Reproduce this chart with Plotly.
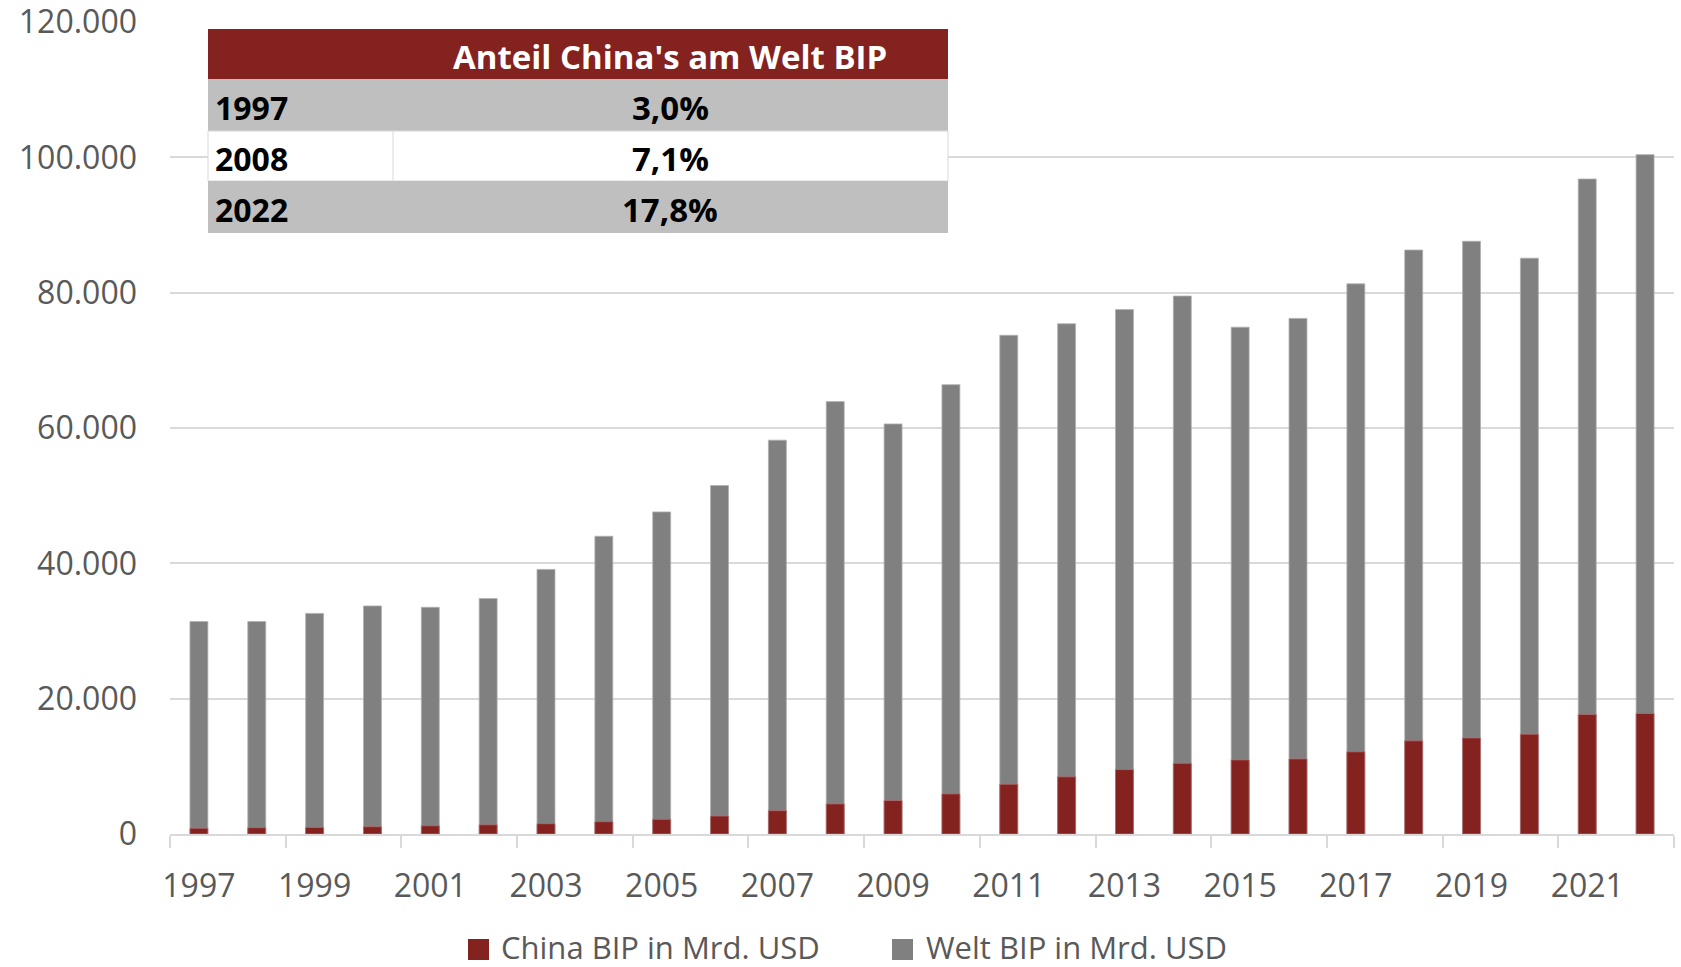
import plotly.graph_objects as go

years = list(range(1997, 2023))
welt_bip = [31400, 31400, 32600, 33700, 33500, 34800, 39100, 44000, 47600, 51500,
            58200, 63900, 60600, 66400, 73700, 75400, 77500, 79500, 74900, 76200,
            81300, 86300, 87600, 85100, 96800, 100400]
china_bip = [850, 930, 980, 1080, 1220, 1360, 1520, 1820, 2170, 2660,
             3450, 4450, 4950, 5930, 7360, 8450, 9520, 10450, 10950, 11100,
             12150, 13770, 14200, 14750, 17670, 17820]
table_title = "Anteil China's am Welt BIP"
table_years = ["1997", "2008", "2022"]
table_shares = ["3,0%", "7,1%", "17,8%"]
series_names = ["China BIP in Mrd. USD", "Welt BIP in Mrd. USD"]

RED = "#84221F"
GRAY = "#808080"
TXT = "#595959"
FONT = "Open Sans"

W, H = 1681, 967
L, R, T, B = 170, 7, 22, 133
PW, PH = W - L - R, H - T - B


def fx(px):
    return (px - L) / PW


def fy(py):
    return (H - B - py) / PH


fig = go.Figure()
fig.add_trace(go.Bar(x=years, y=welt_bip, name=series_names[1], marker=dict(color=GRAY, line=dict(color="#b0b0b0", width=0.8)),
                     width=0.31, showlegend=False))
fig.add_trace(go.Bar(x=years, y=china_bip, name=series_names[0], marker=dict(color=RED, line=dict(color="#b07070", width=0.8)),
                     width=0.31, showlegend=False))

shapes = []
annotations = []

# table
tx0, tx1 = 208, 948
div = 393
rows = [(29, 79), (79, 131), (131, 181), (181, 233)]
shapes.append(dict(type="rect", xref="paper", yref="paper", x0=fx(tx0), x1=fx(tx1), y0=fy(rows[0][1]), y1=fy(rows[0][0]),
                   fillcolor=RED, line=dict(width=0), layer="above"))
fills = ["#BFBFBF", "#FFFFFF", "#BFBFBF"]
for i, (ya, yb) in enumerate(rows[1:]):
    shapes.append(dict(type="rect", xref="paper", yref="paper", x0=fx(tx0), x1=fx(tx1), y0=fy(yb), y1=fy(ya),
                       fillcolor=fills[i], line=dict(width=1 if i == 1 else 0, color="#D9D9D9"), layer="above"))
    if i == 1:
        shapes.append(dict(type="line", xref="paper", yref="paper", x0=fx(div), x1=fx(div), y0=fy(yb), y1=fy(ya),
                           line=dict(width=1, color="#D9D9D9"), layer="above"))
    annotations.append(dict(xref="paper", yref="paper", x=fx(tx0 + 5), y=fy((ya + yb) / 2 + 2), xanchor="left", yanchor="middle",
                            text="<b>%s</b>" % table_years[i], showarrow=False, font=dict(family=FONT, size=32, color="#000000")))
    annotations.append(dict(xref="paper", yref="paper", x=fx(670), y=fy((ya + yb) / 2 + 2), xanchor="center", yanchor="middle",
                            text="<b>%s</b>" % table_shares[i], showarrow=False, font=dict(family=FONT, size=33, color="#000000")))
annotations.append(dict(xref="paper", yref="paper", x=fx(670), y=fy(56), xanchor="center", yanchor="middle",
                        text="<b>%s</b>" % table_title, showarrow=False, font=dict(family=FONT, size=33, color="#FFFFFF")))

# legend (manual)
leg = [(468, 499, RED, series_names[0]), (892, 924, GRAY, series_names[1])]
for sx, tx, col, name in leg:
    shapes.append(dict(type="rect", xref="paper", yref="paper", x0=fx(sx), x1=fx(sx + 21), y0=fy(960), y1=fy(939),
                       fillcolor=col, line=dict(width=0)))
    annotations.append(dict(xref="paper", yref="paper", x=fx(tx), y=fy(947), xanchor="left", yanchor="middle",
                            text=name, showarrow=False, font=dict(family=FONT, size=31, color=TXT)))

fig.update_layout(
    width=W, height=H,
    margin=dict(l=L, r=R, t=T, b=B, autoexpand=False),
    paper_bgcolor="white", plot_bgcolor="white",
    barmode="overlay",
    separators=",.",
    font=dict(family=FONT, size=32, color=TXT),
    shapes=shapes, annotations=annotations,
    showlegend=False,
)
fig.update_xaxes(range=[1996.5, 2022.5], tickvals=list(range(1997, 2023, 2)), ticks="", showgrid=False,
                 showline=True, linecolor="#D9D9D9", linewidth=2, zeroline=False,
                 tickfont=dict(family=FONT, size=32, color=TXT), ticklabelstandoff=23,
                 minor=dict(tickvals=[y + 0.5 for y in range(1996, 2023, 2)], ticks="outside", ticklen=12,
                            tickcolor="#D9D9D9", tickwidth=2, showgrid=False))
fig.update_yaxes(range=[0, 120000], dtick=20000, tickformat=",d", showgrid=True, gridcolor="#D9D9D9", gridwidth=2,
                 zeroline=False, showline=False, ticks="", tickfont=dict(family=FONT, size=32, color=TXT),
                 ticklabelstandoff=32, ticklabeloverflow="allow")

fig.write_html("out.html", config={"displayModeBar": False},
               post_script="document.body.style.margin='0px';document.body.style.overflow='hidden';")
